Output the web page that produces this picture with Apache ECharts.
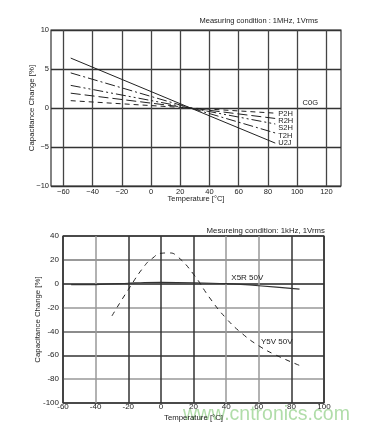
<!DOCTYPE html>
<html>
<head>
<meta charset="utf-8">
<script src="https://cdn.jsdelivr.net/npm/echarts@6/dist/echarts.min.js"></script>
<style>html,body{margin:0;padding:0;background:#fff}#c{width:367px;height:431px}</style>
</head>
<body>
<div id="c"></div>
<script>
// ---- top chart (C0G family) ----
var topXTicks = [-60, -40, -20, 0, 20, 40, 60, 80, 100, 120];
var topTemps = [-55, 27, 85];
var topSeriesNames = ['P2H', 'R2H', 'S2H', 'T2H', 'U2J'];
var P2H = [0.94, 0, -0.66];
var R2H = [1.9, 0, -1.34];
var S2H = [2.9, 0, -2.05];
var T2H = [4.5, 0, -3.2];
var U2J = [6.4, 0, -4.5];
var C0GLabel = [109, 0.64];

// ---- bottom chart (X5R / Y5V) ----
var x5rTemps = [-55, -40, -20, -10, 0, 20, 40, 60, 85];
var X5R = [-0.8, -0.7, 0.4, 1.0, 1.1, 0.8, 0, -1.7, -4.5];
var y5vTemps = [-30, -20, -10, -5, 0, 5, 10, 20, 30, 40, 50, 60, 70, 85];
var Y5V = [-27, -5, 15, 21.5, 25.5, 25.8, 23, 8, -12, -29, -42, -52, -59.5, -68.5];
var x5rLabel = [53, 5];
var y5vLabel = [71, -48.3];

function pairs(xs, ys) { return xs.map(function (x, i) { return [x, ys[i]]; }); }
function minus(v) { return String(v).replace('-', '\u2212'); }

var FONT = 'Liberation Sans';
var TXT = '#222';
var topData = [P2H, R2H, S2H, T2H, U2J];
var topDash = [[5, 4], [10, 4], [10, 3, 2, 3, 2, 3], [10, 3, 2, 3], 'solid'];
var topOffsets = [[0, 0.5], [0, 2], [0, 4], [0, 3], [0, 0]];

var series = topData.map(function (d, i) {
  return {
    name: topSeriesNames[i], type: 'line', xAxisIndex: 0, yAxisIndex: 0,
    data: pairs(topTemps, d), symbol: 'none', silent: true,
    lineStyle: { color: '#222', width: 1, type: topDash[i] },
    endLabel: { show: true, formatter: topSeriesNames[i], distance: 3, offset: topOffsets[i],
      fontFamily: FONT, fontSize: 7.5, color: '#222' }
  };
});
series[4].markPoint = {
  symbolSize: 0, silent: true,
  data: [{ coord: C0GLabel, label: { show: true, position: 'inside', formatter: 'C0G', fontFamily: FONT, fontSize: 7.5, color: '#222' } }]
};
series.push({
  name: 'X5R 50V', type: 'line', xAxisIndex: 1, yAxisIndex: 1,
  data: pairs(x5rTemps, X5R), symbol: 'none', smooth: 0.3, silent: true,
  lineStyle: { color: '#333', width: 1.2 },
  markPoint: { symbolSize: 0, silent: true,
    data: [{ coord: x5rLabel, label: { show: true, position: 'inside', formatter: 'X5R 50V', fontFamily: FONT, fontSize: 8, color: '#222' } }] }
});
series.push({
  name: 'Y5V 50V', type: 'line', xAxisIndex: 1, yAxisIndex: 1,
  data: pairs(y5vTemps, Y5V), symbol: 'none', smooth: true, silent: true,
  lineStyle: { color: '#222', width: 1, type: [5, 5] },
  markPoint: { symbolSize: 0, silent: true,
    data: [{ coord: y5vLabel, label: { show: true, position: 'inside', formatter: 'Y5V 50V', fontFamily: FONT, fontSize: 8, color: '#222' } }] }
});

var chart = echarts.init(document.getElementById('c'), null, { renderer: 'canvas' });
chart.setOption({
  animation: false,
  backgroundColor: '#fff',
  textStyle: { fontFamily: FONT },
  title: [
    { text: 'Measuring condition : 1MHz, 1Vrms', right: 49, top: 17, padding: 0,
      textStyle: { fontFamily: FONT, fontSize: 7.5, fontWeight: 'normal', color: TXT } },
    { text: 'Mesureing condition: 1kHz, 1Vrms', right: 42, top: 227, padding: 0,
      textStyle: { fontFamily: FONT, fontSize: 7.8, fontWeight: 'normal', color: TXT } }
  ],
  grid: [
    { left: 51, right: 26, top: 30, height: 156, show: true, borderColor: '#333', borderWidth: 1.2 },
    { left: 63, right: 43, top: 236, height: 167, show: true, borderColor: '#222', borderWidth: 1.2 }
  ],
  xAxis: [
    { type: 'value', gridIndex: 0, min: -68.5, max: 130,
      name: 'Temperature [\u00b0C]', nameLocation: 'middle', nameGap: 9, nameMoveOverlap: false,
      nameTextStyle: { fontFamily: FONT, fontSize: 7.5, color: TXT },
      axisLine: { show: false },
      axisTick: { show: false, customValues: topXTicks },
      axisLabel: { customValues: topXTicks, formatter: minus, margin: 2, fontFamily: FONT, fontSize: 7.5, color: TXT },
      splitLine: { show: true, lineStyle: { color: '#444', width: 1.3 } } },
    { type: 'value', gridIndex: 1, min: -60, max: 100, interval: 20,
      name: 'Temperature [\u00b0C]', nameLocation: 'middle', nameGap: 11, nameMoveOverlap: false,
      nameTextStyle: { fontFamily: FONT, fontSize: 7.8, color: TXT },
      axisLine: { show: false }, axisTick: { show: false },
      axisLabel: { margin: 0, fontFamily: FONT, fontSize: 8, color: TXT },
      splitLine: { show: true, lineStyle: { color: ['#333', '#999', '#333', '#333', '#333', '#999', '#999', '#333', '#333'], width: 1.5 } } }
  ],
  yAxis: [
    { type: 'value', gridIndex: 0, min: -10, max: 10, interval: 5,
      name: 'Capacitance Change [%]', nameLocation: 'middle', nameGap: 15, nameMoveOverlap: false,
      nameTextStyle: { fontFamily: FONT, fontSize: 7.8, color: TXT },
      axisLine: { show: false }, axisTick: { show: false },
      axisLabel: { formatter: minus, margin: 2, fontFamily: FONT, fontSize: 7.5, color: TXT },
      splitLine: { show: true, lineStyle: { color: '#333', width: 1.3 } } },
    { type: 'value', gridIndex: 1, min: -100, max: 40, interval: 20,
      name: 'Capacitance Change [%]', nameLocation: 'middle', nameGap: 21, nameMoveOverlap: false,
      nameTextStyle: { fontFamily: FONT, fontSize: 7.8, color: TXT },
      axisLine: { show: false }, axisTick: { show: false },
      axisLabel: { margin: 4, fontFamily: FONT, fontSize: 8, color: TXT },
      splitLine: { show: true, lineStyle: { color: ['#333', '#999', '#333', '#666', '#999', '#222', '#777', '#333'], width: 1.5 } } }
  ],
  graphic: [
    { type: 'text', left: 183, top: 405, silent: true,
      style: { text: 'www.cntronics.com', fontFamily: FONT, fontSize: 19.5, fill: 'rgba(150,210,140,0.75)' } }
  ],
  series: series
});
</script>
</body>
</html>
